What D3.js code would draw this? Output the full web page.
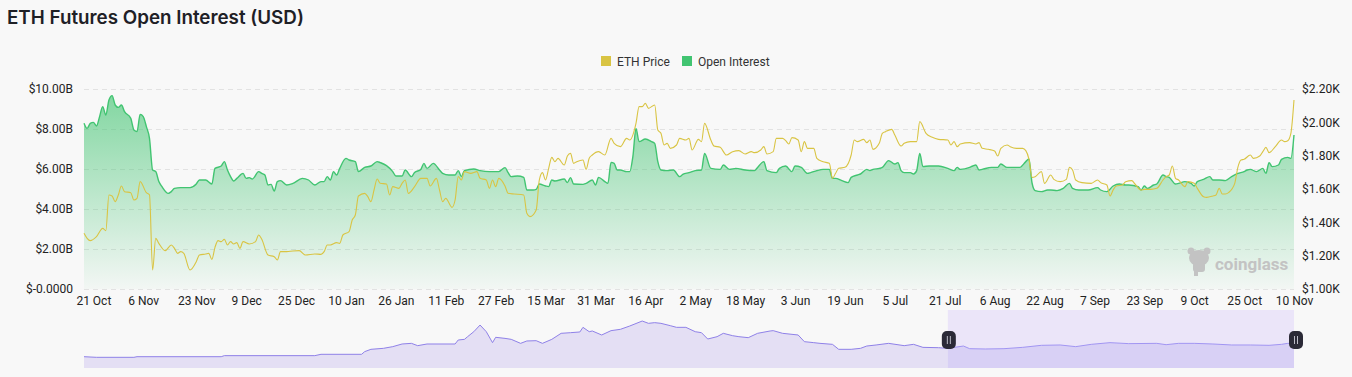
<!doctype html>
<html lang="en">
<head>
<meta charset="utf-8">
<title>ETH Futures Open Interest (USD)</title>
<script src="https://d3js.org/d3.v7.min.js"></script>
<style>
  html, body { margin: 0; padding: 0; background: #f8f8f8; }
  svg { display: block; font-family: Roboto, "Noto Sans", sans-serif; }
</style>
</head>
<body>
<div id="chart"></div>
<script>
  const width = 1352;
  const height = 377;
  const plot = {left: 84, right: 1294, top: 89, bottom: 289};
  const nav = {top: 310, bottom: 368};

  // data: [days since 18 Oct 2022, value]
  const openInterest = [ // billions USD
    [0,8.29],[1,8.03],[2,8.28],[3,8.33],[4,8.15],[5,8.62],[6,9.12],[7,8.70],[8,9.45],[9,9.67],
    [10,9.20],[11,9.08],[12,9.20],[13,8.87],[15,8.53],[16,7.95],[17,7.87],[18,8.73],[19,8.62],[20,8.12],
    [21,7.53],[22,5.95],[23,5.87],[24,5.37],[25,5.12],[27,4.78],[28,4.87],[29,5.03],[31,5.07],[34,5.07],
    [36,5.25],[37,5.45],[39,5.45],[41,5.25],[42,6.03],[44,6.15],[45,6.37],[46,5.95],[47,5.62],[48,5.40],
    [49,5.53],[51,5.78],[52,5.53],[53,5.57],[54,5.50],[56,5.87],[57,5.78],[58,5.70],[59,5.20],[60,5.23],
    [61,4.90],[62,5.37],[63,5.42],[65,5.20],[67,5.28],[70,5.53],[72,5.45],[74,5.20],[76,5.37],[77,5.37],
    [78,5.62],[79,5.45],[80,5.87],[81,5.70],[82,6.03],[84,6.53],[85,6.45],[87,6.37],[88,5.87],[90,6.08],
    [92,6.15],[94,6.37],[95,6.32],[97,6.17],[99,5.87],[100,5.65],[102,5.65],[103,5.95],[105,5.62],[106,5.82],
    [108,5.98],[109,6.28],[110,6.03],[112,6.28],[114,5.95],[115,5.78],[117,5.70],[119,5.70],[120,5.92],[121,5.62],
    [122,5.92],[125,6.00],[127,5.92],[130,5.87],[133,5.87],[135,6.07],[136,5.82],[137,5.62],[139,5.65],[141,5.58],
    [142,4.95],[144,4.95],[145,4.98],[146,5.25],[148,5.15],[149,5.12],[150,5.45],[151,5.40],[154,5.50],[155,5.32],
    [156,5.57],[157,5.25],[160,5.23],[161,5.28],[163,5.45],[164,5.20],[165,5.58],[167,5.37],[168,5.28],[169,6.33],
    [170,6.28],[171,5.95],[172,5.95],[174,5.87],[175,5.87],[176,6.62],[177,8.03],[178,7.37],[180,7.50],[182,7.37],
    [183,7.28],[184,6.37],[185,5.95],[187,5.92],[189,5.95],[191,5.62],[192,5.73],[194,5.82],[196,5.92],[198,5.95],
    [199,6.78],[201,6.03],[204,5.98],[205,6.20],[207,5.98],[209,6.03],[212,5.95],[215,5.92],[216,6.08],[218,6.37],
    [219,5.92],[222,5.82],[223,6.03],[225,6.15],[227,5.87],[228,6.15],[230,6.08],[232,5.78],[233,5.82],[235,5.92],
    [237,5.98],[239,5.98],[240,5.53],[241,5.53],[243,5.42],[245,5.32],[246,5.58],[248,5.70],[249,5.75],[251,5.98],
    [252,5.92],[253,5.98],[255,6.03],[256,6.08],[258,6.42],[260,6.25],[261,6.32],[262,5.92],[263,5.82],[265,5.82],
    [266,5.75],[267,5.92],[268,6.78],[269,6.12],[271,6.15],[274,6.15],[277,6.03],[279,5.92],[280,6.08],[281,5.98],
    [284,6.08],[285,6.15],[286,6.20],[287,5.95],[288,5.98],[291,6.08],[293,6.08],[294,6.25],[296,6.08],[298,6.08],
    [300,6.08],[302,6.37],[303,6.50],[304,5.30],[305,4.92],[307,4.87],[309,4.95],[310,4.95],[312,4.92],[314,5.03],
    [316,5.28],[317,5.03],[319,4.95],[322,4.95],[325,5.07],[326,4.95],[328,4.87],[330,5.15],[332,5.25],[334,5.20],
    [335,5.20],[338,5.12],[339,4.95],[340,5.15],[341,5.03],[343,5.20],[344,5.25],[346,5.70],[347,5.62],[348,5.58],
    [350,5.25],[351,5.28],[353,5.37],[355,5.28],[356,5.15],[357,5.37],[359,5.48],[361,5.62],[362,5.45],[364,5.45],
    [366,5.42],[368,5.62],[370,5.78],[372,5.87],[373,5.95],[374,5.98],[376,5.87],[378,6.03],[379,5.78],[380,6.32],
    [381,6.12],[383,6.20],[384,6.48],[386,6.58],[387,6.53],[388,7.70]
  ];

  const ethPrice = [ // USD
    [0,1334],[1,1304],[2,1290],[4,1314],[6,1364],[7,1350],[8,1564],[9,1558],[10,1524],[11,1564],
    [12,1618],[13,1584],[15,1578],[16,1534],[17,1544],[18,1644],[20,1578],[21,1565],[22,1114],[23,1304],
    [24,1274],[26,1230],[28,1264],[29,1244],[30,1214],[31,1224],[32,1214],[34,1114],[36,1164],[37,1204],
    [39,1210],[40,1214],[41,1178],[42,1250],[43,1290],[44,1284],[45,1298],[46,1264],[47,1284],[48,1270],
    [49,1278],[50,1244],[51,1284],[53,1270],[55,1284],[56,1324],[57,1298],[59,1204],[61,1194],[62,1174],
    [63,1224],[65,1224],[67,1228],[69,1230],[71,1204],[74,1210],[76,1208],[77,1224],[78,1264],[79,1264],
    [81,1278],[82,1274],[83,1324],[85,1344],[86,1414],[87,1444],[88,1558],[90,1574],[91,1554],[92,1524],
    [93,1594],[94,1660],[95,1634],[97,1630],[98,1564],[99,1614],[101,1604],[102,1634],[103,1654],[104,1574],
    [106,1614],[108,1664],[110,1664],[111,1618],[113,1664],[114,1594],[115,1524],[116,1544],[118,1490],[119,1534],
    [120,1674],[121,1654],[122,1704],[124,1694],[126,1704],[127,1664],[129,1654],[130,1604],[131,1654],[132,1614],
    [133,1664],[135,1618],[136,1574],[138,1570],[141,1564],[142,1454],[143,1434],[145,1474],[146,1654],[147,1698],
    [148,1654],[149,1724],[150,1790],[151,1764],[152,1784],[154,1744],[155,1798],[156,1814],[157,1754],[158,1764],
    [160,1774],[161,1718],[162,1784],[163,1804],[165,1824],[167,1804],[169,1904],[170,1874],[172,1854],[174,1904],
    [175,1894],[177,1994],[178,2094],[179,2094],[180,2114],[181,2084],[183,2104],[184,1954],[185,1934],[186,1864],
    [187,1874],[188,1844],[190,1864],[191,1904],[193,1894],[194,1904],[195,1834],[197,1898],[198,1884],[199,1994],
    [201,1894],[202,1858],[204,1850],[206,1804],[208,1824],[210,1830],[212,1810],[214,1824],[215,1818],[217,1834],
    [218,1854],[219,1810],[221,1824],[222,1904],[224,1904],[225,1890],[226,1870],[227,1908],[229,1894],[230,1824],
    [231,1884],[232,1844],[234,1844],[235,1784],[237,1764],[239,1754],[240,1664],[241,1694],[242,1724],[244,1730],
    [246,1804],[247,1894],[248,1884],[250,1898],[251,1878],[252,1894],[253,1838],[255,1874],[256,1934],[257,1944],
    [259,1958],[260,1924],[262,1858],[263,1874],[265,1884],[267,1884],[268,2004],[270,1934],[272,1910],[274,1898],
    [277,1894],[278,1864],[279,1884],[280,1854],[281,1870],[284,1878],[286,1870],[287,1878],[288,1844],[290,1838],
    [292,1828],[293,1798],[294,1844],[296,1864],[297,1854],[299,1844],[301,1844],[302,1830],[303,1780],[304,1670],
    [305,1674],[307,1704],[308,1634],[310,1684],[311,1658],[313,1644],[315,1658],[316,1730],[317,1714],[318,1654],
    [320,1638],[323,1634],[325,1654],[326,1638],[328,1624],[329,1558],[330,1594],[331,1618],[333,1624],[334,1644],
    [336,1650],[337,1630],[339,1594],[340,1598],[342,1598],[344,1604],[346,1654],[347,1674],[348,1684],[349,1738],
    [350,1664],[351,1654],[353,1614],[354,1644],[356,1634],[357,1604],[359,1554],[360,1550],[362,1558],[363,1564],
    [364,1604],[365,1570],[366,1570],[367,1578],[369,1634],[370,1730],[371,1774],[372,1778],[374,1804],[375,1784],
    [377,1798],[378,1824],[379,1850],[380,1818],[382,1854],[384,1894],[385,1884],[386,1890],[387,1934],[388,2134]
  ];

  // overview series shown in the zoom slider (relative scale 0-100)
  const navPreview = [
    [0,19.5],[4,18.4],[16,18.4],[17,19.5],[44,19.5],[45,21.3],[74,21.3],[76,23.6],[89,23.6],[90,28.2],
    [92,32.2],[96,33.9],[99,36.8],[102,41.4],[105,42.5],[107,38.5],[110,41.4],[119,41.4],[120,48.3],[122,49.4],
    [123,54.0],[125,62.6],[127,74.1],[129,62.6],[131,43.7],[132,52.9],[135,51.1],[137,49.4],[140,42.5],[142,46.6],
    [145,47.1],[147,42.5],[150,49.4],[153,59.8],[156,60.9],[159,62.1],[160,70.1],[162,62.6],[163,63.8],[166,56.9],
    [169,64.4],[172,66.7],[175,72.4],[179,81.0],[181,77.0],[183,78.2],[185,77.0],[188,73.0],[190,70.1],[193,70.1],
    [196,62.6],[198,60.9],[200,50.0],[203,54.0],[205,59.8],[208,55.7],[210,54.0],[213,52.3],[216,59.8],[220,63.8],
    [221,64.4],[224,59.8],[229,56.9],[231,45.4],[234,43.7],[236,42.5],[240,40.8],[242,32.2],[246,32.2],[249,33.9],
    [251,37.9],[254,39.7],[258,42.5],[263,38.5],[266,40.8],[269,35.6],[274,35.0],[277,33.9],[282,37.9],[284,33.3],
    [289,32.8],[295,33.3],[301,35.6],[307,39.1],[313,39.7],[318,36.8],[323,40.8],[329,43.7],[335,42.0],[344,42.5],
    [347,40.2],[351,42.5],[356,42.5],[362,41.4],[368,39.7],[374,39.7],[380,39.1],[384,40.8],[386,42.5],[388,42.5]
  ];
  const navWindow = [277, 388];

  const oiTicks = [0, 2, 4, 6, 8, 10];
  const oiTickLabels = ['$-0.0000', '$2.00B', '$4.00B', '$6.00B', '$8.00B', '$10.00B'];
  const priceTicks = [1000, 1200, 1400, 1600, 1800, 2000, 2200];
  const priceTickLabels = ['$1.00K', '$1.20K', '$1.40K', '$1.60K', '$1.80K', '$2.00K', '$2.20K'];
  const xTickDates = ['2022-10-21', '2022-11-06', '2022-11-23', '2022-12-09', '2022-12-25', '2023-01-10',
    '2023-01-26', '2023-02-11', '2023-02-27', '2023-03-15', '2023-03-31', '2023-04-16', '2023-05-02',
    '2023-05-18', '2023-06-03', '2023-06-19', '2023-07-05', '2023-07-21', '2023-08-06', '2023-08-22',
    '2023-09-07', '2023-09-23', '2023-10-09', '2023-10-25', '2023-11-10'];
  const xTickLabels = ['21 Oct', '6 Nov', '23 Nov', '9 Dec', '25 Dec', '10 Jan', '26 Jan', '11 Feb', '27 Feb',
    '15 Mar', '31 Mar', '16 Apr', '2 May', '18 May', '3 Jun', '19 Jun', '5 Jul', '21 Jul', '6 Aug', '22 Aug',
    '7 Sep', '23 Sep', '9 Oct', '25 Oct', '10 Nov'];

  const colors = {price: '#d9c443', oi: '#41c471', navLine: '#8f81e8', text: '#222'};

  const parseDay = d3.timeParse('%Y-%m-%d');
  const start = parseDay('2022-10-18');
  const day = (d) => d3.timeDay.offset(start, d);

  // scales
  const x = d3.scaleTime()
    .domain([start, parseDay('2023-11-10')])
    .range([plot.left, plot.right]);
  const yOI = d3.scaleLinear().domain([0, 10]).range([plot.bottom, plot.top]);
  const yPrice = d3.scaleLinear().domain([1000, 2200]).range([plot.bottom, plot.top]);
  const yNav = d3.scaleLinear().domain([0, 100]).range([nav.bottom, nav.top]);

  const svg = d3.select('#chart').append('svg')
    .attr('width', width)
    .attr('height', height)
    .style('background', '#f8f8f8');

  const defs = svg.append('defs');
  const grad = defs.append('linearGradient')
    .attr('id', 'oiFill')
    .attr('gradientUnits', 'userSpaceOnUse')
    .attr('x1', 0).attr('x2', 0)
    .attr('y1', yOI(d3.max(openInterest, (d) => d[1])))
    .attr('y2', plot.bottom);
  grad.append('stop').attr('offset', 0).attr('stop-color', colors.oi).attr('stop-opacity', 0.64);
  grad.append('stop').attr('offset', 1).attr('stop-color', colors.oi).attr('stop-opacity', 0.03);

  // title
  svg.append('text')
    .attr('x', 7).attr('y', 24)
    .style('font-family', 'Inter, Roboto, sans-serif')
    .style('font-size', '18.8px')
    .style('font-weight', 600)
    .attr('fill', '#1e2026')
    .text('ETH Futures Open Interest (USD)');

  // legend
  const legend = svg.append('g').style('font-size', '12px');
  const legendItems = [
    {name: 'ETH Price', color: colors.price, x: 601},
    {name: 'Open Interest', color: colors.oi, x: 682}
  ];
  legendItems.forEach((it) => {
    legend.append('rect')
      .attr('x', it.x).attr('y', 56)
      .attr('width', 10).attr('height', 10)
      .attr('fill', it.color);
    legend.append('text')
      .attr('x', it.x + 16).attr('y', 65.5)
      .attr('fill', '#333')
      .text(it.name);
  });

  // grid lines
  svg.append('g')
    .selectAll('line')
    .data(oiTicks)
    .enter().append('line')
      .attr('x1', plot.left).attr('x2', plot.right)
      .attr('y1', (d) => yOI(d) + 0.5).attr('y2', (d) => yOI(d) + 0.5)
      .attr('stroke', '#e2e2e2')
      .attr('stroke-dasharray', '5,4');

  // open interest area + line
  const oiArea = d3.area()
    .x((d) => x(day(d[0])))
    .y0(plot.bottom)
    .y1((d) => yOI(d[1]))
    .curve(d3.curveMonotoneX);
  const oiLine = d3.line()
    .x((d) => x(day(d[0])))
    .y((d) => yOI(d[1]))
    .curve(d3.curveMonotoneX);
  const priceLine = d3.line()
    .x((d) => x(day(d[0])))
    .y((d) => yPrice(d[1]))
    .curve(d3.curveMonotoneX);

  svg.append('path')
    .datum(openInterest)
    .attr('d', oiArea)
    .attr('fill', 'url(#oiFill)');

  // watermark
  const wm = svg.append('g').attr('fill', '#c3c3c3');
  wm.append('ellipse').attr('cx', 1199).attr('cy', 258).attr('rx', 10).attr('ry', 8);
  wm.append('circle').attr('cx', 1191).attr('cy', 251).attr('r', 3.5);
  wm.append('circle').attr('cx', 1207).attr('cy', 251).attr('r', 3.5);
  wm.append('rect').attr('x', 1193).attr('y', 262).attr('width', 12).attr('height', 10).attr('rx', 3);
  wm.append('rect').attr('x', 1194).attr('y', 270).attr('width', 4).attr('height', 6);
  wm.append('text')
    .attr('x', 1215).attr('y', 270)
    .style('font-size', '17px')
    .style('font-weight', 700)
    .text('coinglass');

  svg.append('path')
    .datum(openInterest)
    .attr('d', oiLine)
    .attr('fill', 'none')
    .attr('stroke', colors.oi)
    .attr('stroke-width', 1.4);

  svg.append('path')
    .datum(ethPrice)
    .attr('d', priceLine)
    .attr('fill', 'none')
    .attr('stroke', colors.price)
    .attr('stroke-width', 1.1);

  // axes
  const styleAxis = (g) => {
    g.select('.domain').remove();
    g.selectAll('.tick line').remove();
    g.selectAll('text')
      .style('font-family', 'Roboto, sans-serif')
      .style('font-size', '12px')
      .attr('fill', colors.text);
  };

  svg.append('g')
    .attr('transform', `translate(${plot.left},0)`)
    .call(d3.axisLeft(yOI).tickValues(oiTicks).tickSize(0).tickPadding(11)
      .tickFormat((d, i) => oiTickLabels[i]))
    .call(styleAxis);

  svg.append('g')
    .attr('transform', `translate(${plot.right},0)`)
    .call(d3.axisRight(yPrice).tickValues(priceTicks).tickSize(0).tickPadding(8)
      .tickFormat((d, i) => priceTickLabels[i]))
    .call(styleAxis);

  svg.append('g')
    .attr('transform', `translate(0,${plot.bottom})`)
    .call(d3.axisBottom(x).tickValues(xTickDates.map(parseDay)).tickSize(0).tickPadding(7)
      .tickFormat((d, i) => xTickLabels[i]))
    .call(styleAxis);

  // zoom slider
  const navArea = d3.area()
    .x((d) => x(day(d[0])))
    .y0(nav.bottom)
    .y1((d) => yNav(d[1]));
  const navLine = d3.line()
    .x((d) => x(day(d[0])))
    .y((d) => yNav(d[1]));

  svg.append('path')
    .datum(navPreview)
    .attr('d', navArea)
    .attr('fill', '#e4dff4');
  svg.append('path')
    .datum(navPreview)
    .attr('d', navLine)
    .attr('fill', 'none')
    .attr('stroke', colors.navLine)
    .attr('stroke-width', 1);

  const wx0 = x(day(navWindow[0]));
  const wx1 = x(day(navWindow[1]));
  defs.append('clipPath').attr('id', 'navClip')
    .append('rect')
      .attr('x', wx0).attr('y', nav.top)
      .attr('width', wx1 - wx0).attr('height', nav.bottom - nav.top);

  svg.append('rect')
    .attr('x', wx0).attr('y', nav.top)
    .attr('width', wx1 - wx0).attr('height', nav.bottom - nav.top)
    .attr('fill', '#ebe5f9');
  svg.append('path')
    .datum(navPreview)
    .attr('d', navArea)
    .attr('clip-path', 'url(#navClip)')
    .attr('fill', '#d8d0f5');
  svg.append('path')
    .datum(navPreview)
    .attr('d', navLine)
    .attr('clip-path', 'url(#navClip)')
    .attr('fill', 'none')
    .attr('stroke', '#a195f2')
    .attr('stroke-width', 1);

  const handles = svg.append('g')
    .selectAll('g')
    .data([wx0 + 1, wx1 + 2])
    .enter().append('g')
      .attr('transform', (d) => `translate(${d},${(nav.top + nav.bottom) / 2 + 1})`);
  handles.append('rect')
    .attr('x', -7).attr('y', -9)
    .attr('width', 14).attr('height', 18)
    .attr('rx', 5)
    .attr('fill', '#2b2a37');
  handles.selectAll('line')
    .data([-1.5, 1.5])
    .enter().append('line')
      .attr('x1', (d) => d).attr('x2', (d) => d)
      .attr('y1', -4).attr('y2', 4)
      .attr('stroke', '#bdbdc8')
      .attr('stroke-width', 1);
</script>
</body>
</html>
